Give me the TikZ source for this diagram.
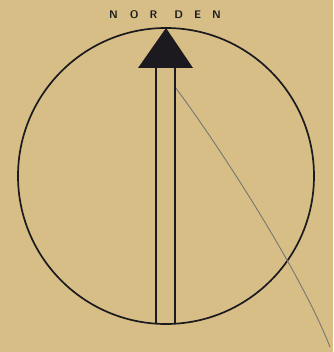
\documentclass[tikz,border=0pt]{standalone}
\definecolor{paper}{RGB}{214,190,134}
\definecolor{ink}{RGB}{28,26,30}
\definecolor{pencil}{RGB}{118,120,112}

\begin{document}
\begin{tikzpicture}[x=1pt, y=-1pt, line width=1.4pt]
  % page
  \fill[paper] (0,0) rectangle (333,352);
  \useasboundingbox (0,0) rectangle (333,352);
  % heading
  \node[text=ink, font=\sffamily\bfseries\fontsize{11}{11}\selectfont] (north) at (165,15)
    {N\hspace{12pt}O\hspace{11pt}R\hspace{17pt}D\hspace{11pt}E\hspace{11pt}N};
  % compass ring
  \draw[ink, line width=1.7pt] (166,176) circle (148);
  % pencil trace
  \draw[pencil, line width=0.9pt] (175,87) .. controls (215,140) and (300,270) .. (330,347);
  % needle shaft
  \draw[ink] (156,68) -- (156,323);
  \draw[ink] (175,68) -- (175,323);
  % needle head
  \fill[ink] (166,28) -- (193,68) -- (138,68) -- cycle;
\end{tikzpicture}
\end{document}
